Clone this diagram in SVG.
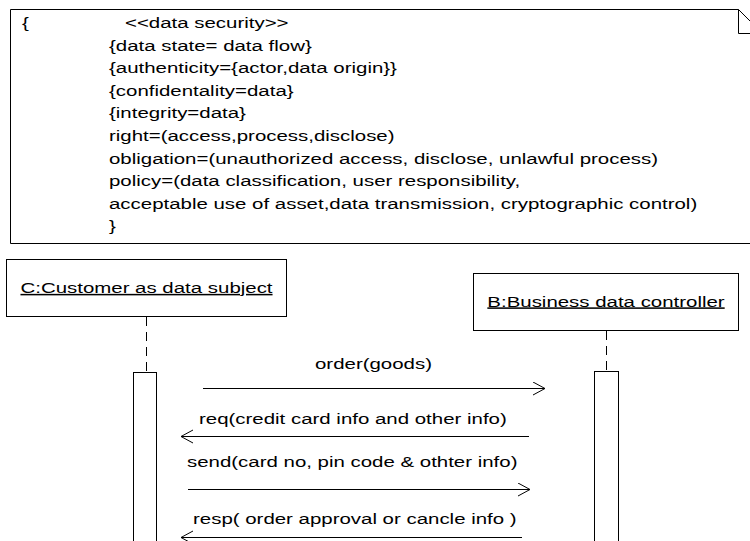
<svg xmlns="http://www.w3.org/2000/svg" width="750" height="541" viewBox="0 0 750 541">
<defs>
<style>
.t{font-family:"Liberation Sans",Arial,sans-serif;font-size:15.2px;fill:#000}
.u{text-decoration:underline}
.box{fill:#fff;stroke:#000;stroke-width:1}
.ln{fill:none;stroke:#000;stroke-width:1}
.life{fill:none;stroke:#000;stroke-width:1;stroke-dasharray:9 6}
.msg{fill:none;stroke:#000;stroke-width:1;marker-end:url(#open)}
</style>
<marker id="open" markerUnits="userSpaceOnUse" markerWidth="16" markerHeight="16" refX="13" refY="7" orient="auto">
<path d="M1,0.5 L13,7 L1,13.5" fill="none" stroke="#000" stroke-width="1"/>
</marker>
</defs>
<rect width="750" height="541" fill="#fff"/>
<g id="note">
<path class="box" d="M10.5,9.5 H738.5 L762,33 V243.5 H10.5 Z"/>
<path class="ln" d="M738.5,9.5 V33.5 H762"/>
<text class="t" transform="translate(22,28) scale(1.345,1)">{</text>
<text class="t" transform="translate(125,28) scale(1.345,1)">&lt;&lt;data security&gt;&gt;</text>
<text class="t" transform="translate(109,50.6) scale(1.345,1)">{data state= data flow}</text>
<text class="t" transform="translate(109,73.2) scale(1.345,1)">{authenticity={actor,data origin}}</text>
<text class="t" transform="translate(109,95.8) scale(1.345,1)">{confidentality=data}</text>
<text class="t" transform="translate(109,118.4) scale(1.345,1)">{integrity=data}</text>
<text class="t" transform="translate(109,141) scale(1.345,1)">right=(access,process,disclose)</text>
<text class="t" transform="translate(109,163.6) scale(1.345,1)">obligation=(unauthorized access, disclose, unlawful process)</text>
<text class="t" transform="translate(109,186.2) scale(1.345,1)">policy=(data classification, user responsibility,</text>
<text class="t" transform="translate(109,208.8) scale(1.345,1)">acceptable use of asset,data transmission, cryptographic control)</text>
<text class="t" transform="translate(109,231.4) scale(1.345,1)">}</text>
</g>
<g id="customer">
<rect class="box" x="6.5" y="259.5" width="280" height="57"/>
<text class="t u" text-anchor="middle" transform="translate(146.5,293) scale(1.345,1)">C:Customer as data subject</text>
<line class="life" x1="146.5" y1="317" x2="146.5" y2="372"/>
<rect class="box" x="133.5" y="372.5" width="23" height="180"/>
</g>
<g id="business">
<rect class="box" x="473.5" y="273.5" width="265" height="57"/>
<text class="t u" text-anchor="middle" transform="translate(606,306.5) scale(1.345,1)">B:Business data controller</text>
<line class="life" x1="606.5" y1="331" x2="606.5" y2="371"/>
<rect class="box" x="594.5" y="371.5" width="24" height="180"/>
</g>
<g id="connectors">
<line class="msg" x1="203" y1="388.5" x2="545" y2="388.5"/>
<text class="t" transform="translate(315,369) scale(1.345,1)">order(goods)</text>
<line class="msg" x1="529" y1="436.5" x2="181" y2="436.5"/>
<text class="t" transform="translate(199,424) scale(1.345,1)">req(credit card info and other info)</text>
<line class="msg" x1="188" y1="489.5" x2="530" y2="489.5"/>
<text class="t" transform="translate(187,467) scale(1.345,1)">send(card no, pin code &amp; othter info)</text>
<line class="msg" x1="522" y1="537.5" x2="181" y2="537.5"/>
<text class="t" transform="translate(193,524) scale(1.345,1)">resp( order approval or cancle info )</text>
</g>
</svg>
